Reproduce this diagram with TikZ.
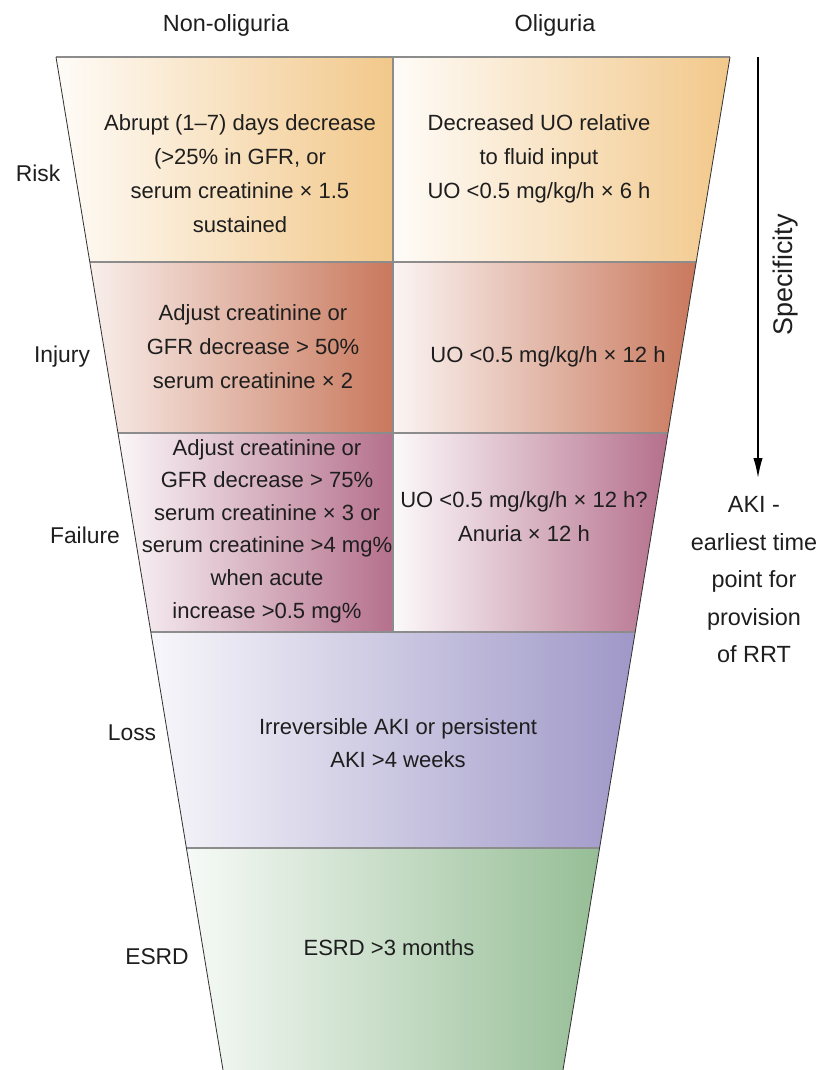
\documentclass[tikz,border=0pt]{standalone}
\usepackage{fontspec}
\setmainfont{Liberation Sans}
\usetikzlibrary{arrows.meta, calc}
\definecolor{riskc}{HTML}{F2C88A}
\definecolor{injuryc}{HTML}{C9785C}
\definecolor{failurec}{HTML}{B5708C}
\definecolor{lossc}{HTML}{9F98C8}
\definecolor{esrdc}{HTML}{96BE96}
\definecolor{inkc}{HTML}{1E1E1E}
\tikzset{
    cell/.style={align=center, text=inkc, font=\fontsize{18.8}{29}\selectfont},
    tight/.style={font=\fontsize{18.8}{27.8}\selectfont},
    stage/.style={text=inkc, font=\fontsize{19.5}{24}\selectfont},
    head/.style={text=inkc, font=\fontsize{20}{24}\selectfont},
    sidenote/.style={align=center, text=inkc, font=\fontsize{20}{32}\selectfont},
    sep/.style={draw=black!45, line width=1.3pt},
    rim/.style={draw=black!80, line width=0.7pt}
}

\begin{document}
\begin{tikzpicture}[x=0.03cm, y=-0.03cm]
            \useasboundingbox (0,0) rectangle (830,1070);

            \coordinate (a0) at (56,57);     \coordinate (b0) at (730,57);
            \coordinate (a1) at (89.8,262);  \coordinate (b1) at (696.2,262);
            \coordinate (a2) at (118,433);   \coordinate (b2) at (668,433);
            \coordinate (a3) at (150.8,632); \coordinate (b3) at (635.2,632);
            \coordinate (a4) at (186.4,848); \coordinate (b4) at (599.6,848);
            \coordinate (a5) at (223,1070);  \coordinate (b5) at (563,1070);
            \coordinate (m0) at (393,57);
            \coordinate (m1) at (393,262);
            \coordinate (m2) at (393,433);
            \coordinate (m3) at (393,632);

            \shade[left color=riskc!6, right color=riskc] (a0) -- (m0) -- (m1) -- (a1) -- cycle;
            \shade[left color=riskc!6, right color=riskc] (m0) -- (b0) -- (b1) -- (m1) -- cycle;
            \shade[left color=injuryc!12, right color=injuryc] (a1) -- (m1) -- (m2) -- (a2) -- cycle;
            \shade[left color=injuryc!8, right color=injuryc] (m1) -- (b1) -- (b2) -- (m2) -- cycle;
            \shade[left color=failurec!6, right color=failurec] (a2) -- (m2) -- (m3) -- (a3) -- cycle;
            \shade[left color=failurec!4, right color=failurec] (m2) -- (b2) -- (b3) -- (m3) -- cycle;
            \shade[left color=lossc!8, right color=lossc] (a3) -- (b3) -- (b4) -- (a4) -- cycle;
            \shade[left color=esrdc!8, right color=esrdc] (a4) -- (b4) -- (b5) -- (a5) -- cycle;

            \draw[sep] (a0) -- (b0);
            \draw[sep] (a1) -- (b1);
            \draw[sep] (a2) -- (b2);
            \draw[sep] (a3) -- (b3);
            \draw[sep] (a4) -- (b4);
            \draw[sep] (m0) -- (m3);
            \draw[rim] (a0) -- (a5);
            \draw[rim] (b0) -- (b5);

            \node[head] (nonolig) at (226,25) {Non-oliguria};
            \node[head] (olig) at (555,25) {Oliguria};

            \node[stage] (risk) at (38,173) {Risk};
            \node[stage] (injury) at (62,357) {Injury};
            \node[stage] (failure) at (85,535) {Failure};
            \node[stage] (loss) at (132,733) {Loss};
            \node[stage] (esrd) at (157,957) {ESRD};

            \node[cell] (riskgfr) at (240,174) {Abrupt (1–7) days decrease\\(>25\% in GFR, or\\serum creatinine × 1.5\\sustained};
            \node[cell] (riskuo) at (539,159) {Decreased UO relative\\to fluid input\\UO <0.5 mg/kg/h × 6 h};
            \node[cell] (injurygfr) at (253,347) {Adjust creatinine or\\GFR decrease > 50\%\\serum creatinine × 2};
            \node[cell] (injuryuo) at (548,357) {UO <0.5 mg/kg/h × 12 h};
            \node[cell, tight] (failuregfr) at (267,531) {Adjust creatinine or\\GFR decrease > 75\%\\serum creatinine × 3 or\\serum creatinine >4 mg\%\\when acute\\increase >0.5 mg\%};
            \node[cell] (failureuo) at (524,517) {UO <0.5 mg/kg/h × 12 h?\\Anuria × 12 h};
            \node[cell, tight] (lossnote) at (398,743) {Irreversible AKI or persistent\\AKI >4 weeks};
            \node[cell] (esrdnote) at (389,948) {ESRD >3 months};

            \coordinate (spectop) at (758,57);
            \coordinate (specbot) at (758,478);
            \draw[line width=1.3pt, -{Latex[length=6mm, width=2.8mm]}] (spectop) -- (specbot);
            \node[head, rotate=90, font=\fontsize{23}{26}\selectfont] (specificity) at (786,275) {Specificity};
            \node[sidenote] (rrt) at (754,580) {AKI -\\earliest time\\point for\\provision\\of RRT};
        \end{tikzpicture}
\end{document}
